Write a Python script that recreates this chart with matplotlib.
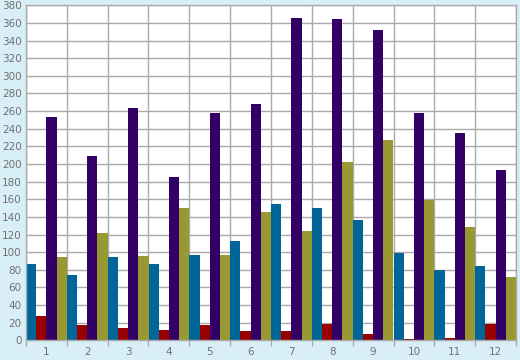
import numpy as np
import matplotlib.pyplot as plt

categories = ['1', '2', '3', '4', '5', '6', '7', '8', '9', '10', '11', '12']
blue_vals = [87, 74, 94, 86, 97, 113, 155, 150, 137, 99, 80, 84]
red_vals = [27, 17, 14, 12, 17, 10, 10, 18, 7, 2, 3, 18]
purple_vals = [253, 209, 263, 185, 258, 268, 366, 365, 352, 258, 235, 193]
olive_vals = [95, 122, 96, 150, 97, 146, 124, 202, 227, 159, 128, 72]

series = [blue_vals, red_vals, purple_vals, olive_vals]
colors = ['#006699', '#990000', '#330066', '#999933']

grid_col = '#aaaaaa'
text_col = '#707070'

fig = plt.figure(figsize=(5.2, 3.6), dpi=100, facecolor='#d9eff7')
ax = fig.add_axes([26 / 520, 1 - 340.3 / 360, 490 / 520, 335 / 360])
ax.set_facecolor('white')

x = np.arange(len(categories))
w = 0.25
for i, (vals, c) in enumerate(zip(series, colors)):
    ax.bar(x - 0.375 + i * w, vals, width=w, color=c, linewidth=0, zorder=2)

ax.set_xlim(-0.5, len(categories) - 0.5)
ax.set_ylim(0, 380)
ax.set_yticks(np.arange(0, 381, 20))

# boundaries get the grid and tick marks, centers get the labels
ax.set_xticks(np.arange(-0.5, len(categories), 1.0))
ax.set_xticklabels([])
ax.set_xticks(x, minor=True)
ax.set_xticklabels(categories, minor=True)

ax.grid(True, color=grid_col, linewidth=1.0, zorder=0)
ax.set_axisbelow(True)

ax.tick_params(axis='x', which='major', direction='out', length=4, color=grid_col, width=1)
ax.tick_params(axis='x', which='minor', length=0, pad=5, labelsize=7.5, labelcolor=text_col)
ax.tick_params(axis='y', length=0, pad=3, labelsize=7.5, labelcolor=text_col)

for s in ax.spines.values():
    s.set_color(grid_col)
    s.set_linewidth(1.0)

fig.savefig('out.png', dpi=100, facecolor=fig.get_facecolor())
